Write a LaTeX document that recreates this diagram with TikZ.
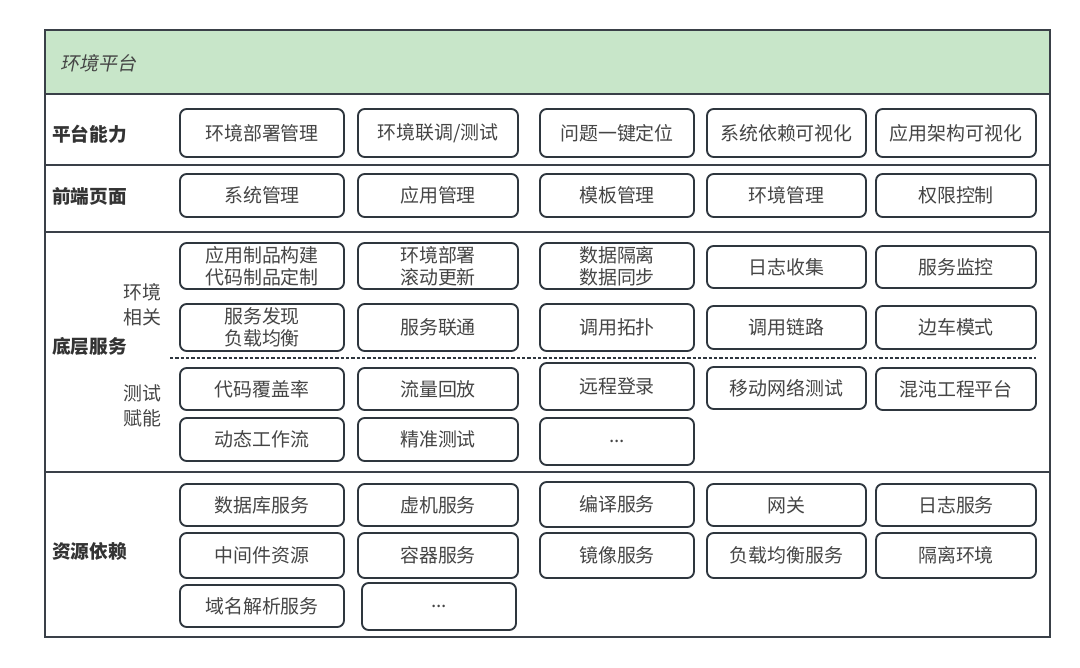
\documentclass[tikz,border=0pt]{standalone}
\usepackage{fontspec}
\usepackage{xcolor}
\usepackage{tikz}
\newfontfamily\cjk{Noto Sans CJK SC}
\newfontfamily\cjkslant[FakeSlant=0.2]{Noto Sans CJK SC}
\definecolor{framegray}{HTML}{3A4048}
\definecolor{boxline}{HTML}{2E363E}
\definecolor{txtgray}{HTML}{454545}
\definecolor{headgreen}{HTML}{C8E6C9}

\begin{document}
\begin{tikzpicture}[
  x=0.75pt, y=-0.75pt,
  font=\cjk\fontsize{14.2pt}{16.5pt}\selectfont,
  cell/.style={rectangle, rounded corners=5pt, draw=boxline, line width=1.4pt, fill=white,
               text=txtgray, align=center, inner sep=0pt, minimum width=#1*0.75pt},
  cell/.default=160,
  ht/.style={minimum height=#1*0.75pt},
  sect/.style={font=\cjk\bfseries\fontsize{14pt}{16pt}\selectfont, text=black!80, anchor=west, inner sep=0pt},
  sub/.style={text=txtgray, align=right, anchor=east, inner sep=0pt, font=\cjk\fontsize{14.2pt}{19pt}\selectfont},
  rule/.style={draw=framegray, line width=1.5pt},
]
\useasboundingbox (0,0) rectangle (1080,667);
% frame and header band
\fill[headgreen] (45,30) rectangle (1050,94);
\draw[rule] (45,94) -- (1050,94);
\draw[rule] (45,165) -- (1050,165);
\draw[rule] (45,232) -- (1050,232);
\draw[rule] (45,472) -- (1050,472);
\draw[draw=framegray, line width=1.9pt] (45,30) rectangle (1050,637);
\draw[draw=boxline, line width=1.3pt, dash pattern=on 2.4pt off 1.6pt] (170,358) -- (1036,358);

\node[font=\cjkslant\fontsize{14.2pt}{16pt}\selectfont, text=txtgray, anchor=west, inner sep=0pt] (title) at (60,63) {环境平台};

% section labels
\node[sect] (lblcap)  at (52,134)   {平台能力};
\node[sect] (lblfe)   at (52,196)   {前端页面};
\node[sect] (lblbase) at (52,346)   {底层服务};
\node[sect] (lblres)  at (52,551)   {资源依赖};
\node[sub]  (lblenv)  at (162,305)  {环境\\相关};
\node[sub]  (lbltest) at (162,406)  {测试\\赋能};

% 平台能力
\node[cell=164, ht=48] (cap1) at (262,133)   {环境部署管理};
\node[cell=160, ht=48] (cap2) at (438,133)   {环境联调/测试};
\node[cell=154, ht=48] (cap3) at (617,133)   {问题一键定位};
\node[cell=159, ht=48] (cap4) at (786.5,133) {系统依赖可视化};
\node[cell=160, ht=48] (cap5) at (956,133)   {应用架构可视化};

% 前端页面
\node[cell=164, ht=43] (fe1) at (262,195.5)   {系统管理};
\node[cell=160, ht=43] (fe2) at (438,195.5)   {应用管理};
\node[cell=154, ht=43] (fe3) at (617,195.5)   {模板管理};
\node[cell=159, ht=43] (fe4) at (786.5,195.5) {环境管理};
\node[cell=160, ht=43] (fe5) at (956,195.5)   {权限控制};

% 底层服务: 环境相关
\node[cell=164, ht=46] (env1) at (262,266)   {应用制品构建\\代码制品定制};
\node[cell=160, ht=46] (env2) at (438,266)   {环境部署\\滚动更新};
\node[cell=154, ht=46] (env3) at (617,266)   {数据隔离\\数据同步};
\node[cell=159, ht=42] (env4) at (786.5,267) {日志收集};
\node[cell=160, ht=42] (env5) at (956,267)   {服务监控};
\node[cell=164, ht=47] (env6) at (262,327.5)   {服务发现\\负载均衡};
\node[cell=160, ht=47] (env7) at (438,327.5)   {服务联通};
\node[cell=154, ht=47] (env8) at (617,327.5)   {调用拓扑};
\node[cell=159, ht=43] (env9) at (786.5,327.5) {调用链路};
\node[cell=160, ht=43] (env10) at (956,327.5)  {边车模式};

% 底层服务: 测试赋能
\node[cell=164, ht=42] (tst1) at (262,389)   {代码覆盖率};
\node[cell=160, ht=42] (tst2) at (438,389)   {流量回放};
\node[cell=154, ht=47] (tst3) at (617,386.5) {远程登录};
\node[cell=159, ht=42] (tst4) at (786.5,388) {移动网络测试};
\node[cell=160, ht=42] (tst5) at (956,389)   {混沌工程平台};
\node[cell=164, ht=43] (tst6) at (262,439.5) {动态工作流};
\node[cell=160, ht=43] (tst7) at (438,439.5) {精准测试};
\node[cell=154, ht=47] (tst8) at (617,441.5) {...};

% 资源依赖
\node[cell=164, ht=42] (res1)  at (262,505)   {数据库服务};
\node[cell=160, ht=42] (res2)  at (438,505)   {虚机服务};
\node[cell=154, ht=45] (res3)  at (617,504.5) {编译服务};
\node[cell=159, ht=42] (res4)  at (786.5,505) {网关};
\node[cell=160, ht=42] (res5)  at (956,505)   {日志服务};
\node[cell=164, ht=45] (res6)  at (262,555.5)   {中间件资源};
\node[cell=160, ht=45] (res7)  at (438,555.5)   {容器服务};
\node[cell=154, ht=45] (res8)  at (617,555.5)   {镜像服务};
\node[cell=159, ht=45] (res9)  at (786.5,555.5) {负载均衡服务};
\node[cell=160, ht=45] (res10) at (956,555.5)   {隔离环境};
\node[cell=164, ht=42] (res11) at (262,606)   {域名解析服务};
\node[cell=154, ht=47] (res12) at (439,606.5) {...};
\end{tikzpicture}
\end{document}
